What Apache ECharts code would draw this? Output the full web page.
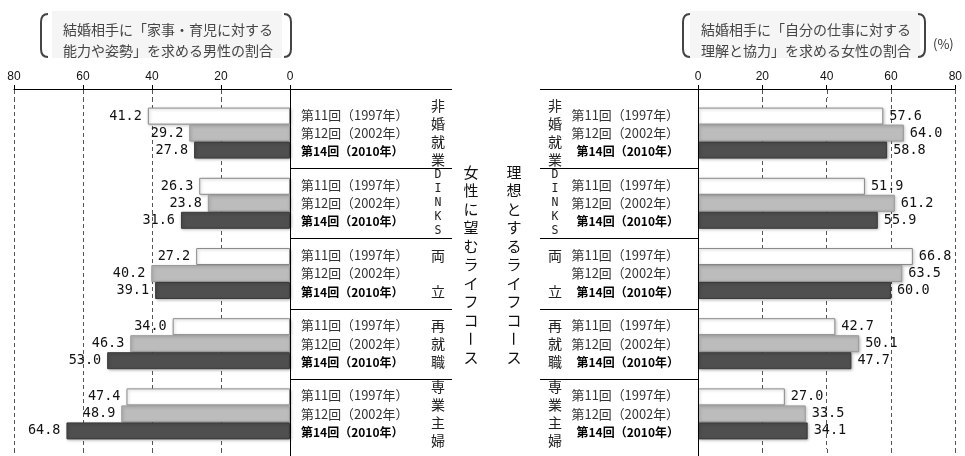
<!DOCTYPE html>
<html>
<head>
<meta charset="utf-8">
<script src="https://cdn.jsdelivr.net/npm/echarts@6/dist/echarts.min.js"></script>
<style>
html,body{margin:0;padding:0;background:#fff;}
#chart{width:965px;height:456px;}
</style>
</head>
<body>
<div id="chart"></div>
<script>
const categories = ['非婚就業', 'DINKS', '両立', '再就職', '専業主婦'];
const rounds = ['第11回（1997年）', '第12回（2002年）', '第14回（2010年）'];
const male1997 = [41.2, 26.3, 27.2, 34.0, 47.4];
const male2002 = [29.2, 23.8, 40.2, 46.3, 48.9];
const male2010 = [27.8, 31.6, 39.1, 53.0, 64.8];
const female1997 = [57.6, 51.9, 66.8, 42.7, 27.0];
const female2002 = [64.0, 61.2, 63.5, 50.1, 33.5];
const female2010 = [58.8, 55.9, 60.0, 47.7, 34.1];
const axisMin = 0, axisMax = 80, axisInterval = 20;
const leftTitle = '結婚相手に「家事・育児に対する\n能力や姿勢」を求める男性の割合';
const rightTitle = '結婚相手に「自分の仕事に対する\n理解と協力」を求める女性の割合';
const unitLabel = '(%)';
const leftSideTitle = '女性に望むライフコース';
const rightSideTitle = '理想とするライフコース';

const CJK = '"Noto Sans CJK JP", "Noto Sans", sans-serif';
const MONO = '"DejaVu Sans Mono", monospace';

const gridTop = 98, gridHeight = 351;
const band = gridHeight / categories.length;

const chart = echarts.init(document.getElementById('chart'));

function vertLabel(name) {
  if (/^[A-Z]+$/.test(name)) return name.split('').map(c => '{s|' + c + '}').join('\n');
  if (name.length === 2) return '{c|' + name[0] + '}\n{c| }\n{c|' + name[1] + '}';
  return name.split('').map(c => '{c|' + c + '}').join('\n');
}
const vertRich = {
  c: {fontSize: 14, lineHeight: 18, fontFamily: CJK, color: '#222'},
  s: {fontSize: 11.5, lineHeight: 14, fontFamily: MONO, color: '#222'}
};
function roundLabel() {
  return '{r|' + rounds[0] + '}\n{r|' + rounds[1] + '}\n{b|' + rounds[2] + '}';
}
const roundRich = {
  r: {fontSize: 12.9, lineHeight: 18.5, fontFamily: CJK, color: '#333'},
  b: {fontSize: 12, lineHeight: 18.5, fontFamily: CJK, fontWeight: 'bold', color: '#000'}
};

const barStyles = [
  {color: '#ffffff', borderColor: '#8a8a8a', borderWidth: 1, shadowBlur: 3, shadowColor: 'rgba(0,0,0,0.25)', shadowOffsetX: 1, shadowOffsetY: 1},
  {color: '#bcbcbc', borderColor: '#9a9a9a', borderWidth: 1, shadowBlur: 3, shadowColor: 'rgba(0,0,0,0.25)', shadowOffsetX: 1, shadowOffsetY: 1},
  {color: '#4f4f4f', borderColor: '#3a3a3a', borderWidth: 1, shadowBlur: 3, shadowColor: 'rgba(0,0,0,0.3)', shadowOffsetX: 1, shadowOffsetY: 1}
];
const gridLineStyle = {color: '#555', width: 1, type: [4, 3]};

function xAxisCfg(gridIndex, inverse) {
  return {
    gridIndex: gridIndex, type: 'value', min: axisMin, max: axisMax, interval: axisInterval,
    inverse: inverse, position: 'top', offset: 9,
    axisLine: {show: true, lineStyle: {color: '#000', width: 1}},
    axisTick: {show: true, length: 4, lineStyle: {color: '#000'}},
    axisLabel: {margin: 6, fontSize: 12, color: '#111', fontFamily: '"Liberation Sans", Arial, sans-serif'},
    splitLine: {show: true, lineStyle: gridLineStyle}
  };
}

function makeSeries(vals, idx, xi, yi, pos) {
  return {
    name: rounds[idx], type: 'bar', xAxisIndex: xi, yAxisIndex: yi,
    data: vals, barWidth: 17, barGap: '0%',
    itemStyle: barStyles[idx],
    label: {show: true, position: pos, distance: 6, fontFamily: MONO, fontSize: 13.5, color: '#111',
      formatter: p => p.value.toFixed(1)},
    z: 3
  };
}

const graphics = [];
graphics.push({type: 'rect', shape: {x: 52, y: 11, width: 230, height: 47}, style: {fill: '#f5f5f5'}, z: -1, silent: true});
graphics.push({type: 'rect', shape: {x: 690, y: 11, width: 230, height: 47}, style: {fill: '#f5f5f5'}, z: -1, silent: true});
function bracket(x, open) {
  const dx = open ? 7 : -7;
  const st = {stroke: '#444', lineWidth: 2, fill: null};
  return {type: 'group', silent: true, children: [
    {type: 'bezierCurve', shape: {x1: x + dx, y1: 14, x2: x, y2: 22, cpx1: x, cpy1: 14}, style: st},
    {type: 'line', shape: {x1: x, y1: 22, x2: x, y2: 49}, style: st},
    {type: 'bezierCurve', shape: {x1: x, y1: 49, x2: x + dx, y2: 57, cpx1: x, cpy1: 57}, style: st}
  ]};
}
graphics.push(bracket(41, true), bracket(291, false), bracket(683, true), bracket(925, false));
function hline(x1, x2, y) {
  return {type: 'line', shape: {x1: x1, y1: y, x2: x2, y2: y}, style: {stroke: '#000', lineWidth: 1}, z: 10, silent: true};
}
graphics.push(hline(290, 452, 89.5), hline(540, 698, 89.5));
for (let i = 1; i < categories.length; i++) {
  const y = Math.round(gridTop + i * band) + 0.5;
  graphics.push(hline(290, 452, y), hline(540, 698, y));
}
graphics.push({type: 'line', shape: {x1: 290.5, y1: 89, x2: 290.5, y2: 456}, style: {stroke: '#000', lineWidth: 1}, z: 10, silent: true});
graphics.push({type: 'line', shape: {x1: 698.5, y1: 89, x2: 698.5, y2: 456}, style: {stroke: '#000', lineWidth: 1}, z: 10, silent: true});
function vertText(str, cx, top, step) {
  const children = str.split('').map((ch, i) => {
    const rot = ch === 'ー';
    return {
      type: 'text', x: cx, y: top + i * step + step / 2, rotation: rot ? -Math.PI / 2 : 0,
      style: {text: ch, font: '15px ' + CJK, fill: '#111', align: 'center', verticalAlign: 'middle'}
    };
  });
  return {type: 'group', children: children, silent: true};
}
graphics.push(vertText(leftSideTitle, 471, 163, 18.5));
graphics.push(vertText(rightSideTitle, 514, 163, 18.5));
graphics.push({type: 'text', x: 933, y: 38, style: {text: unitLabel, font: '13px ' + CJK, fill: '#333'}, silent: true});

const option = {
  backgroundColor: '#fff',
  animation: false,
  title: [
    {text: leftTitle, left: 58, top: 14, textStyle: {fontSize: 14, lineHeight: 21, fontWeight: 'normal', color: '#444', fontFamily: CJK}},
    {text: rightTitle, left: 696, top: 14, textStyle: {fontSize: 14, lineHeight: 21, fontWeight: 'normal', color: '#444', fontFamily: CJK}}
  ],
  grid: [
    {left: 14, top: gridTop, width: 276, height: gridHeight},
    {left: 698, top: gridTop, width: 262, height: gridHeight}
  ],
  xAxis: [xAxisCfg(0, true), xAxisCfg(1, false)],
  yAxis: [
    {gridIndex: 0, type: 'category', data: categories, inverse: true, position: 'right',
      axisLine: {show: false}, axisTick: {show: false},
      axisLabel: {margin: 11, formatter: roundLabel, rich: roundRich, align: 'left'}},
    {gridIndex: 0, type: 'category', data: categories, inverse: true, position: 'right', offset: 148,
      axisLine: {show: false}, axisTick: {show: false},
      axisLabel: {margin: 0, align: 'center', formatter: vertLabel, rich: vertRich}},
    {gridIndex: 1, type: 'category', data: categories, inverse: true, position: 'left',
      axisLine: {show: false}, axisTick: {show: false},
      axisLabel: {margin: 19, formatter: roundLabel, rich: roundRich, align: 'right'}},
    {gridIndex: 1, type: 'category', data: categories, inverse: true, position: 'left', offset: 143,
      axisLine: {show: false}, axisTick: {show: false},
      axisLabel: {margin: 0, align: 'center', formatter: vertLabel, rich: vertRich}}
  ],
  series: [
    makeSeries(male1997, 0, 0, 0, 'left'),
    makeSeries(male2002, 1, 0, 0, 'left'),
    makeSeries(male2010, 2, 0, 0, 'left'),
    makeSeries(female1997, 0, 1, 2, 'right'),
    makeSeries(female2002, 1, 1, 2, 'right'),
    makeSeries(female2010, 2, 1, 2, 'right')
  ],
  graphic: graphics
};
chart.setOption(option);

// extend the dashed grid lines above and below the plot area, positions from the axis scale
const ext = [];
[0, 1].forEach(ai => {
  for (let v = axisMin; v <= axisMax; v += axisInterval) {
    if (v === 0) continue;
    const x = Math.round(chart.convertToPixel({xAxisIndex: ai}, v)) + 0.5;
    const st = {stroke: gridLineStyle.color, lineWidth: 1, lineDash: gridLineStyle.type};
    ext.push({type: 'line', silent: true, z: 0, shape: {x1: x, y1: 90, x2: x, y2: gridTop}, style: st});
    ext.push({type: 'line', silent: true, z: 0, shape: {x1: x, y1: gridTop + gridHeight, x2: x, y2: 456}, style: st});
  }
});
chart.setOption({graphic: graphics.concat(ext)});
</script>
</body>
</html>
